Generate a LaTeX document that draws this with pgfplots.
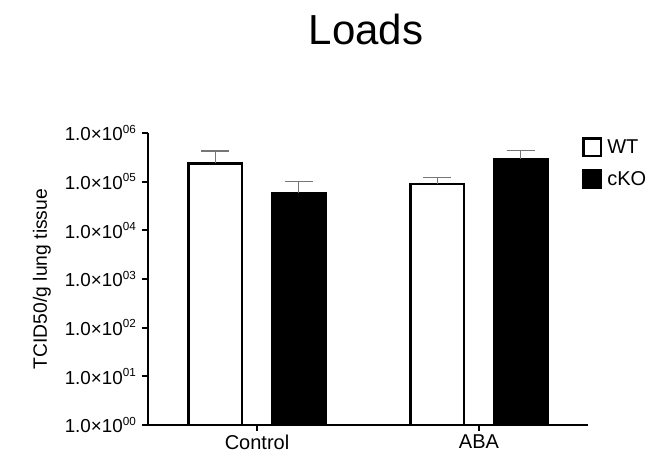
\documentclass[border=0pt]{standalone}
\usepackage{pgfplots}
\pgfplotsset{compat=1.18}
\usepackage{fontspec}
\setmainfont{Liberation Sans}
\definecolor{eb}{RGB}{118,118,118}
\newcommand{\sci}[1]{1.0×10\raisebox{7.6pt}{\fontsize{11.7}{12}\selectfont #1}}
\begin{document}
\begin{tikzpicture}
\path[use as bounding box] (-148pt,-32pt) rectangle (518pt,425pt);
\begin{axis}[
  at={(0pt,0pt)}, anchor=south west,
  scale only axis, width=440pt, height=292pt,
  ymode=log, ymin=1, ymax=1e6, xmin=-0.491, xmax=1.491,
  axis x line=bottom, axis y line=left,
  axis line style={-, line width=2pt, black},
  tick align=outside, major tick length=6pt,
  tick style={line width=2pt, black},
  yminorticks=false,
  ytick={1,10,100,1000,10000,100000,1000000},
  yticklabels={\sci{00},\sci{01},\sci{02},\sci{03},\sci{04},\sci{05},\sci{06}},
  yticklabel style={font=\fontsize{18.8}{20}\selectfont, inner sep=1pt, xshift=-5pt},
  xtick={0,1}, xticklabels={Control,ABA},
  xticklabel style={font=\fontsize{20}{22}\selectfont},
  ylabel={TCID50/g lung tissue},
  ylabel style={at={(axis description cs:-0.241,0.5)}, anchor=center, font=\fontsize{19.3}{21}\selectfont},
  legend style={at={(rel axis cs:0.986,0.986)}, anchor=north west, draw=none, fill=none, inner sep=0pt,
    font=\fontsize{20}{22}\selectfont, row sep=12pt, nodes={inner sep=2pt}},
  legend cell align=left,
  legend image code/.code={\draw[#1,line width=2.5pt] (0pt,-8.75pt) rectangle (17.5pt,8.75pt); \path[draw=none,fill=none] (22pt,0pt);},
  error bars/error bar style={eb, line width=1.5pt},
  error bars/error mark options={eb, line width=1.5pt, mark size=14pt, rotate=90},
]
\addplot[ybar, bar width=0.241, bar shift=0, draw=black, fill=white, line width=2.5pt,
  error bars/.cd, y dir=plus, y explicit]
  coordinates {(-0.187,2.38e5) +- (0,1.88e5) (0.813,8.97e4) +- (0,3.1e4)};
\addlegendentry{WT}
\addplot[ybar, bar width=0.241, bar shift=0, draw=black, fill=black, line width=2.5pt,
  error bars/.cd, y dir=plus, y explicit]
  coordinates {(0.187,5.78e4) +- (0,4.2e4) (1.187,2.93e5) +- (0,1.4e5)};
\addlegendentry{cKO}
\end{axis}
\node[font=\fontsize{42}{46}\selectfont, anchor=base] at (218pt,380pt) {Loads};
\end{tikzpicture}
\end{document}
